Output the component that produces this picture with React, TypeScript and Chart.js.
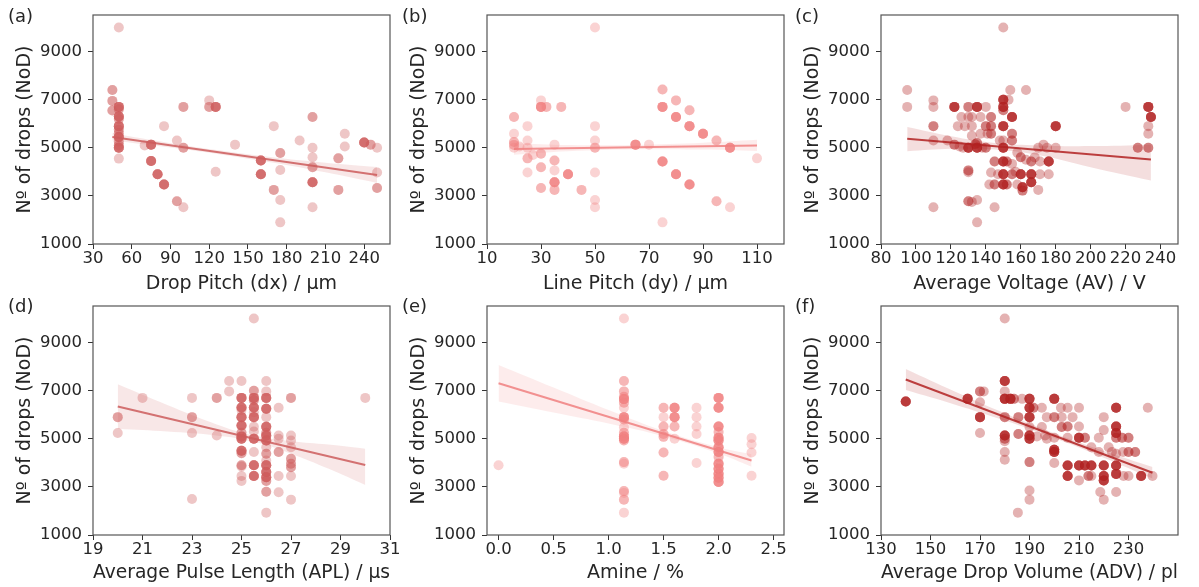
import React, { useEffect, useRef } from "react";
import { Chart, registerables } from "chart.js";
Chart.register(...registerables);

// ---------- shared axis values ----------
const Y_TICKS = [1000, 3000, 5000, 7000, 9000];
const Y_MIN = 1000;
const Y_MAX = 10520;
const Y_TITLE = "Nº of drops (NoD)";

// ---------- (a) Drop Pitch ----------
const dxX = [50,45,45,45,50,50,50,50,50,50,50,50,50,50,50,50,70,75,75,80,85,85,95,95,100,100,100,120,120,125,125,140,160,160,170,170,175,175,175,175,190,200,200,200,200,200,200,220,220,225,225,240,245,250,250,250];
const dxY = [10000,7400,6950,6550,6700,6600,6300,6200,5900,5750,5600,5450,5250,5100,5000,4550,5100,5130,4450,3900,3470,5900,5300,2780,6700,5000,2530,6970,6700,6700,4000,5130,4470,3900,5900,3250,4780,4080,2830,1900,5300,6280,5000,4610,4190,3570,2530,4560,3250,5580,5050,5220,5130,5000,3970,3330];
const dxN = [1,2,2,2,5,2,5,2,5,2,2,5,2,2,5,1,1,5,5,5,5,1,1,2,2,2,1,1,2,5,1,1,5,5,1,2,2,1,1,1,1,2,1,1,2,5,1,2,2,1,1,5,2,1,1,2];
const dxTicks = [30,60,90,120,150,180,210,240];
const dxLineX = [45, 250];
const dxLineY = [5450, 3870];
const dxBandX = [45, 90, 130, 170, 210, 250];
const dxBandLo = [5300, 5010, 4715, 4377, 3979, 3540];
const dxBandHi = [5600, 5190, 4875, 4597, 4379, 4200];

// ---------- (b) Line Pitch ----------
const dyX = [50,20,20,20,20,20,22,25,25,25,25,25,27,30,30,32,30,30,30,35,35,35,35,35,37.5,40,45,50,50,50,50,50,50,65,70,75,75,75,75,80,80,80,85,85,85,90,95,95,100,100,110];
const dyY = [10000,6280,5580,5240,5120,5000,5050,5900,5300,5000,4560,3970,4700,6970,6700,6700,4750,4190,3330,5130,4470,4060,3570,3250,6700,3900,3250,5900,5300,5000,3970,2830,2530,5130,5130,7420,6700,4430,1900,6970,6280,3900,6560,5900,3470,5580,5300,2780,5000,2530,4560];
const dyN = [1,2,1,2,2,1,1,1,1,1,2,1,1,1,5,2,2,2,2,1,2,1,5,2,2,5,2,1,1,2,1,1,1,5,1,2,5,5,1,2,5,5,2,5,5,5,2,2,5,1,1];
const dyTicks = [10,30,50,70,90,110];
const dyLineX = [20, 110];
const dyLineY = [4950, 5100];
const dyBandX = [20, 40, 65, 90, 110];
const dyBandLo = [4710, 4853, 4935, 4927, 4870];
const dyBandHi = [5190, 5113, 5115, 5207, 5330];

// ---------- (c) Average Voltage ----------
const avX = [150,95,95,110,110,110,110,110,118,122,124,122,125,126,127,128,130,130,130,130,130,130,132,132,132,132,134,135,135,135,135,135,137,137,138,140,140,140,141,143,143,143,143,145,145,145,147,150,150,150,150,150,150,150,150,150,152,152,154,153,155,155,155,155,155,157,158,160,160,161,161,163,163,166,166,166,168,170,171,170,171,173,176,176,175,180,180,220,227,233,234.5,233,233,233,148,142,158];
const avY = [10000,7400,6700,6970,6700,5900,5300,2530,5300,6700,5900,5130,5050,6280,5000,5900,6700,6280,5000,4060,3980,2780,6280,5900,5500,2750,5150,6700,5000,5200,2830,1900,6280,5580,5000,6700,5900,5000,5580,6280,5900,5580,3970,4430,3470,2530,3900,7000,6700,6560,5900,5300,5000,4430,3900,3470,4430,3470,7400,7000,6280,5580,5300,4330,3900,4000,4800,4610,3900,3360,3220,7400,4500,4430,3900,3570,4600,5000,4430,3250,3900,5130,4430,3900,5000,5900,5000,6700,5000,6700,6280,5900,5580,5000,5300,3470,3470];
const avN = [1,1,1,1,1,2,1,1,1,5,1,2,1,1,1,1,2,1,5,2,1,2,1,1,1,1,2,5,5,2,1,1,1,1,1,1,2,2,1,2,2,2,1,2,2,1,1,5,5,2,5,1,5,5,5,5,2,2,1,1,5,2,2,1,2,1,1,2,5,5,2,1,1,2,5,5,1,1,1,1,1,1,5,1,1,5,1,1,2,5,5,1,1,2,1,1,1];
const avTicks = [80,100,120,140,160,180,200,220,240];
const avLineX = [95, 234.5];
const avLineY = [5375, 4514];
const avBandX = [95, 120, 145, 170, 200, 234.5];
const avBandLo = [4860, 4960, 4930, 4700, 4195, 3640];
const avBandHi = [5860, 5480, 5200, 5100, 5070, 5130];

// ---------- (d) Average Pulse Length ----------
const aplX = [25.5,20,20,21,23,23,23,23,24,24,24.5,24.5,25,
  25,25,25,25,25,25,25,25,25,25,25,25,25,25,
  25.5,25.5,25.5,25.5,25.5,25.5,25.5,25.5,25.5,25.5,25.5,25.5,
  26,26,26,26,26,26,26,26,26,26,26,26,26,26,26,26,26,26,
  26.5,26.5,26.5,26.5,26.5,26.5,
  27,27,27,27,27,27,27,27,27,
  30];
const aplY = [10000,5900,5240,6700,6700,5900,5240,2500,6700,5140,7400,6970,7400,
  6700,6300,6200,5900,5550,5250,5100,5000,4500,4400,3900,3850,3450,3250,
  7000,6700,6600,6300,5900,5500,5300,5000,4450,3900,3450,6100,
  7400,6970,6700,6250,5900,5500,5250,5140,4930,4650,4380,4100,3900,3620,3400,3250,2800,1930,
  6290,5140,5000,4450,3450,2780,
  6700,5140,4930,4650,4170,3960,3820,3450,2470,
  6700];
const aplN = [1,2,1,1,1,2,1,1,2,1,1,1,1,
  5,5,1,5,5,2,5,5,5,2,2,1,1,1,
  2,5,2,5,5,1,1,5,1,5,5,1,
  1,1,5,5,1,5,2,5,5,1,2,1,5,5,5,2,2,1,
  1,1,1,2,1,1,
  2,1,1,1,2,2,2,1,1,
  1];
const aplTicks = [19,21,23,25,27,29,31];
const aplLineX = [20, 30];
const aplLineY = [6342, 3906];
const aplBandX = [20, 22, 24, 25.5, 27, 28.5, 30];
const aplBandLo = [5420, 5305, 5138, 4872, 4377, 3760, 3080];
const aplBandHi = [7262, 6405, 5598, 5132, 4897, 4760, 4590];

// ---------- (e) Amine ----------
const amX = [0,
  1.14,1.14,1.14,1.14,1.14,1.14,1.14,1.14,1.14,1.14,1.14,1.14,1.14,1.14,1.14,1.14,1.14,1.14,1.14,1.14,
  1.5,1.5,1.5,1.5,1.5,1.5,1.5,
  1.6,1.6,1.6,1.6,
  1.8,1.8,1.8,1.8,1.8,
  2,2,2,2,2,2,2,2,2,2,2,2,2,2,
  2.3,2.3,2.3,2.3];
const amY = [3900,
  10000,7400,6970,6750,6650,6500,6290,5900,5800,5480,5250,5100,5000,4930,4030,3960,2830,2750,2470,1930,
  6290,5900,5510,5200,5080,4430,3460,
  6290,5900,5510,5000,
  6290,5900,5510,5200,3990,
  6700,6290,5510,5280,5040,4930,4650,4450,4240,3960,3750,3550,3380,3200,
  5030,4770,4430,3460];
const amN = [1,
  1,2,2,2,5,2,1,5,2,1,2,5,5,2,2,1,2,1,2,1,
  2,1,2,2,2,2,2,
  5,5,2,1,
  1,1,1,1,1,
  5,5,5,2,5,5,5,5,2,5,5,5,5,5,
  1,1,1,1];
const amTicks = [0, 0.5, 1.0, 1.5, 2.0, 2.5];
const amLineX = [0, 2.3];
const amLineY = [7311, 4100];
const amBandX = [0, 0.5, 1.0, 1.5, 2.0, 2.3];
const amBandLo = [6551, 6093, 5635, 5107, 4389, 3840];
const amBandHi = [8071, 7133, 6195, 5327, 4649, 4360];

// ---------- (f) Average Drop Volume ----------
const advX = [140,180,165,170,171.5,170,170,170,180,180,180,182.3,183.7,180,180,180,180,180,185.5,185.5,185.3,187,190,190,190,190,190,190,190,190,190,191.6,195,195,196.3,197,200,200,200,200,200,200,202.7,203,203,205.4,205.4,205.4,205.4,205.4,207.4,210,210,210,210,210,212.4,212.4,213.8,215,215,218,218,220,220,220,220,220,218.6,220,222,223.3,225,225,225,225,225,225,225,225,227.4,227.8,230,230,230,232.7,235.1,237.8,239.7,197,193,215,228,180];
const advY = [6550,10000,6660,6970,6970,6520,5900,5240,7400,6970,6660,6660,6660,5900,5140,5000,4450,4130,5900,5200,1930,6660,6660,6290,5900,5490,5140,5000,4030,2850,2470,6290,6290,5490,5140,5900,6660,5900,5040,4540,4450,3990,6290,5900,5490,6290,5510,5040,3890,3450,5900,6290,5510,5040,3890,3270,5040,3890,3450,3890,4650,5040,4450,5900,5360,3890,3450,3270,2790,2470,4650,4450,6290,5510,5240,5040,4380,3890,3540,2790,5040,4450,5040,4450,3450,4450,3450,6290,3450,5000,5100,3450,3450,4900];
const advN = [5,1,5,2,1,1,5,1,5,1,6,6,2,2,5,2,1,1,2,2,1,1,5,5,5,1,5,5,2,1,1,2,1,1,1,1,5,2,1,5,5,1,1,1,2,1,2,1,5,5,1,1,1,5,5,1,2,5,2,5,1,1,1,1,1,5,5,5,1,1,1,1,5,5,5,2,1,5,5,1,2,1,2,2,1,2,5,1,1,1,1,1,1,1];
const advTicks = [130,150,170,190,210,230];
const advLineX = [140, 239.7];
const advLineY = [7463, 3590];
const advBandX = [140, 160, 180, 200, 220, 239.7];
const advBandLo = [7023, 6416, 5759, 5032, 4215, 3350];
const advBandHi = [7903, 6956, 6059, 5232, 4495, 3830];

// ---------- styling / layout ----------
const TXT = "#262626";
const FONT = "'DejaVu Sans', sans-serif";
const INDIANRED = [205, 92, 92];
const LIGHTCORAL = [240, 128, 128];
const FIREBRICK = [178, 34, 34];
const PLOT_W = 297;
const PLOT_H = 229;
const Y_AXIS_W = 93;
const TOP_PAD = 15;
const RIGHT_PAD = 20;
const COL_LEFT = [93, 487, 881];
const ROW_TOP = [15, 306];
const ROW_XAXIS_H = [54, 52];

const rgba = (c: number[], a: number) => `rgba(${c[0]},${c[1]},${c[2]},${a})`;

type PanelCfg = {
  tag: string;
  X: number[]; Y: number[]; N: number[];
  ticks: number[]; min: number; max: number; dec: number;
  title: string; color: number[];
  lineX: number[]; lineY: number[];
  bandX: number[]; bandLo: number[]; bandHi: number[];
  col: number; row: number;
};

const PANELS: PanelCfg[] = [
  { tag: "(a)", X: dxX, Y: dxY, N: dxN, ticks: dxTicks, min: 30, max: 260, dec: 0, title: "Drop Pitch (dx) / μm", color: INDIANRED, lineX: dxLineX, lineY: dxLineY, bandX: dxBandX, bandLo: dxBandLo, bandHi: dxBandHi, col: 0, row: 0 },
  { tag: "(b)", X: dyX, Y: dyY, N: dyN, ticks: dyTicks, min: 10, max: 120, dec: 0, title: "Line Pitch (dy) / μm", color: LIGHTCORAL, lineX: dyLineX, lineY: dyLineY, bandX: dyBandX, bandLo: dyBandLo, bandHi: dyBandHi, col: 1, row: 0 },
  { tag: "(c)", X: avX, Y: avY, N: avN, ticks: avTicks, min: 80, max: 250, dec: 0, title: "Average Voltage (AV) / V", color: FIREBRICK, lineX: avLineX, lineY: avLineY, bandX: avBandX, bandLo: avBandLo, bandHi: avBandHi, col: 2, row: 0 },
  { tag: "(d)", X: aplX, Y: aplY, N: aplN, ticks: aplTicks, min: 19, max: 31, dec: 0, title: "Average Pulse Length (APL) / μs", color: INDIANRED, lineX: aplLineX, lineY: aplLineY, bandX: aplBandX, bandLo: aplBandLo, bandHi: aplBandHi, col: 0, row: 1 },
  { tag: "(e)", X: amX, Y: amY, N: amN, ticks: amTicks, min: -0.105, max: 2.595, dec: 1, title: "Amine / %", color: LIGHTCORAL, lineX: amLineX, lineY: amLineY, bandX: amBandX, bandLo: amBandLo, bandHi: amBandHi, col: 1, row: 1 },
  { tag: "(f)", X: advX, Y: advY, N: advN, ticks: advTicks, min: 130, max: 250, dec: 0, title: "Average Drop Volume (ADV) / pl", color: FIREBRICK, lineX: advLineX, lineY: advLineY, bandX: advBandX, bandLo: advBandLo, bandHi: advBandHi, col: 2, row: 1 },
];

const framePlugin = {
  id: "frame",
  afterDraw(chart: any) {
    const { ctx, chartArea: a } = chart;
    ctx.save();
    ctx.strokeStyle = "#555555";
    ctx.lineWidth = 1.2;
    ctx.strokeRect(a.left, a.top, a.right - a.left, a.bottom - a.top);
    ctx.restore();
  },
};

function expand(xs: number[], ys: number[], ns: number[]) {
  const out: { x: number; y: number }[] = [];
  xs.forEach((x, i) => {
    for (let k = 0; k < ns[i]; k++) out.push({ x, y: ys[i] });
  });
  return out;
}

function Panel({ cfg }: { cfg: PanelCfg }) {
  const ref = useRef<HTMLCanvasElement>(null);
  const xAxisH = ROW_XAXIS_H[cfg.row];
  const w = Y_AXIS_W + PLOT_W + RIGHT_PAD;
  const h = TOP_PAD + PLOT_H + xAxisH;
  useEffect(() => {
    const c = cfg.color;
    const gridOpts = {
      display: true,
      drawOnChartArea: false,
      drawTicks: true,
      tickLength: 5,
      tickColor: "#333333",
      tickWidth: 1,
    };
    const chart = new Chart(ref.current as HTMLCanvasElement, {
      type: "scatter",
      data: {
        datasets: [
          {
            type: "scatter",
            data: expand(cfg.X, cfg.Y, cfg.N),
            pointRadius: 5,
            pointBackgroundColor: rgba(c, 0.35),
            backgroundColor: rgba(c, 0.35),
            borderWidth: 0,
            pointBorderWidth: 0,
            order: 3,
          } as any,
          {
            type: "line",
            data: cfg.bandX.map((x, i) => ({ x, y: cfg.bandLo[i] })),
            showLine: true,
            borderWidth: 0,
            pointRadius: 0,
            fill: false,
            tension: 0.4,
            order: 2,
          } as any,
          {
            type: "line",
            data: cfg.bandX.map((x, i) => ({ x, y: cfg.bandHi[i] })),
            showLine: true,
            borderWidth: 0,
            pointRadius: 0,
            fill: "-1",
            backgroundColor: rgba(c, 0.15),
            tension: 0.4,
            order: 2,
          } as any,
          {
            type: "line",
            data: cfg.lineX.map((x, i) => ({ x, y: cfg.lineY[i] })),
            showLine: true,
            borderColor: rgba(c, 0.85),
            borderWidth: 2,
            pointRadius: 0,
            fill: false,
            order: 1,
          } as any,
        ],
      },
      options: {
        responsive: false,
        animation: false,
        devicePixelRatio: 1,
        events: [],
        layout: { padding: { top: TOP_PAD, right: RIGHT_PAD, left: 0, bottom: 0 } },
        plugins: { legend: { display: false }, tooltip: { enabled: false } },
        scales: {
          x: {
            type: "linear",
            min: cfg.min,
            max: cfg.max,
            afterBuildTicks: (s: any) => {
              s.ticks = cfg.ticks.map((v) => ({ value: v }));
            },
            afterFit: (s: any) => {
              s.height = xAxisH;
            },
            ticks: {
              color: TXT,
              font: { family: FONT, size: 16.5, lineHeight: 1 },
              padding: 1,
              maxRotation: 0,
              minRotation: 0,
              autoSkip: false,
              callback: (v: any) => Number(v).toFixed(cfg.dec),
            },
            grid: gridOpts,
            border: { display: false },
            title: {
              display: true,
              text: cfg.title,
              color: TXT,
              font: { family: FONT, size: 19 },
              padding: { top: 0, bottom: 2.6 },
            },
          },
          y: {
            type: "linear",
            min: Y_MIN,
            max: Y_MAX,
            afterBuildTicks: (s: any) => {
              s.ticks = Y_TICKS.map((v) => ({ value: v }));
            },
            afterFit: (s: any) => {
              s.width = Y_AXIS_W;
            },
            ticks: {
              color: TXT,
              font: { family: FONT, size: 16.5, lineHeight: 1 },
              padding: 6,
              callback: (v: any) => String(v),
            },
            grid: gridOpts,
            border: { display: false },
            title: {
              display: true,
              text: Y_TITLE,
              color: TXT,
              font: { family: FONT, size: 19 },
              padding: { top: 13.6, bottom: 0 },
            },
          },
        },
      } as any,
      plugins: [framePlugin],
    });
    return () => chart.destroy();
  }, []);
  return (
    <canvas
      ref={ref}
      width={w}
      height={h}
      style={{
        position: "absolute",
        left: COL_LEFT[cfg.col] - Y_AXIS_W,
        top: ROW_TOP[cfg.row] - TOP_PAD,
        width: w,
        height: h,
      }}
    />
  );
}

const TAG_LEFT = [8, 402, 795];
const TAG_TOP = [7, 297];

export default function App() {
  return (
    <div
      style={{
        position: "fixed",
        left: 0,
        top: 0,
        width: 1199,
        height: 587,
        overflow: "hidden",
        background: "#ffffff",
      }}
    >
      {PANELS.map((p) => (
        <Panel key={p.tag} cfg={p} />
      ))}
      {PANELS.map((p) => (
        <div
          key={"t" + p.tag}
          style={{
            position: "absolute",
            left: TAG_LEFT[p.col],
            top: TAG_TOP[p.row],
            fontFamily: FONT,
            fontSize: 18,
            lineHeight: "18px",
            color: TXT,
          }}
        >
          {p.tag}
        </div>
      ))}
    </div>
  );
}
